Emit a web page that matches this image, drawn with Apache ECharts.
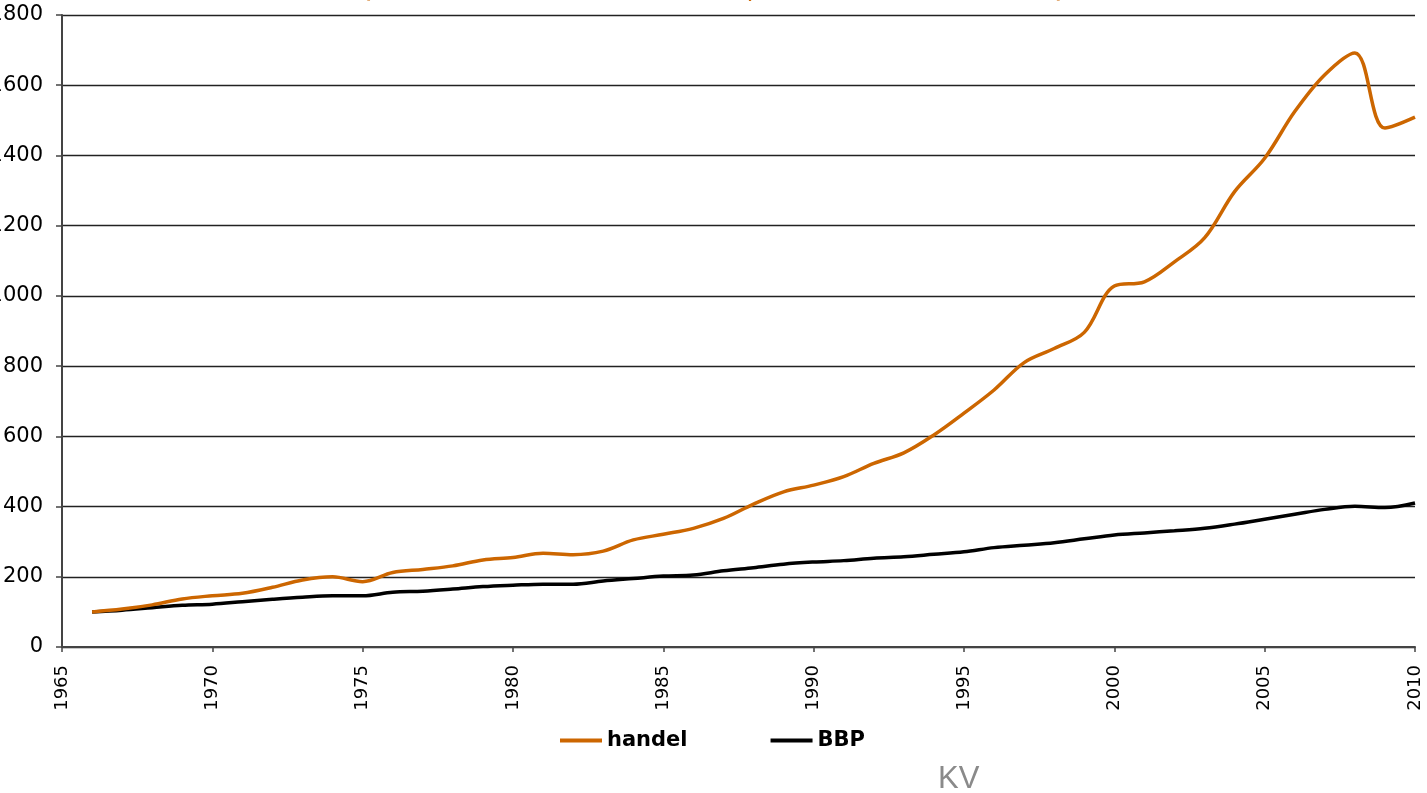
<!DOCTYPE html>
<html>
<head>
<meta charset="utf-8">
<title>handel en BBP</title>
<script src="https://cdn.jsdelivr.net/npm/echarts@6/dist/echarts.min.js"></script>
<style>
  html, body { margin: 0; padding: 0; background: #fff; }
  #chart { width: 1427px; height: 793px; }
</style>
</head>
<body>
<div id="chart"></div>
<script>
// Jaarlijkse reeksen, index 1966 = 100
const years = [
  1966, 1967, 1968, 1969, 1970, 1971, 1972, 1973, 1974, 1975,
  1976, 1977, 1978, 1979, 1980, 1981, 1982, 1983, 1984, 1985,
  1986, 1987, 1988, 1989, 1990, 1991, 1992, 1993, 1994, 1995,
  1996, 1997, 1998, 1999, 2000, 2001, 2002, 2003, 2004, 2005,
  2006, 2007, 2008, 2009, 2010
];
const handel = [
  100, 108, 120, 137, 146, 153, 170, 191, 200, 186,
  212, 221, 231, 248, 255, 267, 263, 273, 305, 321,
  338, 366, 407, 442, 461, 485, 523, 553, 604, 666,
  732, 810, 850, 896, 1028, 1040, 1097, 1165, 1297, 1392,
  1525, 1630, 1692, 1478, 1509
];
const bbp = [
  100, 105, 112, 119, 122, 129, 136, 142, 146, 146,
  156, 159, 165, 172, 176, 179, 179, 188, 195, 202,
  205, 217, 226, 236, 242, 246, 253, 257, 264, 271,
  283, 290, 297, 308, 319, 325, 331, 338, 350, 364,
  378, 392, 401, 397, 410
];
const seriesNames = ['handel', 'BBP'];
const titleText = '(volume-index wereldhandel en BBP, 1966 = 100 in reële termen)';
const sourceText = 'KV';

const pairs = vals => years.map((y, i) => [y, vals[i]]);
const FONT = 'DejaVu Sans';
const plain = v => String(v);

const chart = echarts.init(document.getElementById('chart'), null, { renderer: 'canvas' });
chart.setOption({
  animation: false,
  backgroundColor: '#ffffff',
  title: {
    text: titleText,
    left: 'center',
    top: -21,
    textStyle: { fontFamily: FONT, fontWeight: 'bold', fontSize: 19, color: '#CC6600' }
  },
  grid: { left: 62, right: 12, top: 15, bottom: 146, containLabel: false, outerBoundsMode: 'none' },
  legend: {
    data: seriesNames,
    left: 555,
    top: 725,
    itemGap: 83,
    itemWidth: 42,
    itemHeight: 4,
    icon: 'rect',
    textStyle: { fontFamily: FONT, fontWeight: 'bold', fontSize: 21, color: '#000' }
  },
  xAxis: {
    type: 'value',
    min: 1965,
    max: 2010,
    interval: 5,
    axisLine: { show: true, lineStyle: { color: '#444', width: 2 } },
    axisTick: { show: true, length: 5, lineStyle: { color: '#444', width: 1.5 } },
    axisLabel: { rotate: 90, margin: 18, formatter: plain, fontFamily: FONT, fontSize: 18, color: '#000' },
    splitLine: { show: false }
  },
  yAxis: {
    type: 'value',
    min: 0,
    max: 1800,
    interval: 200,
    axisLine: { show: true, lineStyle: { color: '#444', width: 2 } },
    axisTick: { show: true, length: 6, lineStyle: { color: '#444', width: 1.5 } },
    axisLabel: { margin: 19, formatter: plain, fontFamily: FONT, fontSize: 21, color: '#000' },
    splitLine: { show: true, lineStyle: { color: '#222', width: 1.4 } }
  },
  series: [
    {
      name: seriesNames[0],
      type: 'line',
      data: pairs(handel),
      showSymbol: false,
      symbol: 'none',
      smooth: 0.35,
      color: '#CC6600',
      lineStyle: { width: 3.5, color: '#CC6600' },
      z: 3
    },
    {
      name: seriesNames[1],
      type: 'line',
      data: pairs(bbp),
      showSymbol: false,
      symbol: 'none',
      smooth: 0.35,
      color: '#000000',
      lineStyle: { width: 3.5, color: '#000000' },
      z: 2
    }
  ],
  graphic: [
    {
      type: 'text',
      left: 938,
      top: 764,
      style: { text: sourceText, font: '31px "Liberation Sans"', fill: '#8a8a8a' }
    }
  ]
});
</script>
</body>
</html>
